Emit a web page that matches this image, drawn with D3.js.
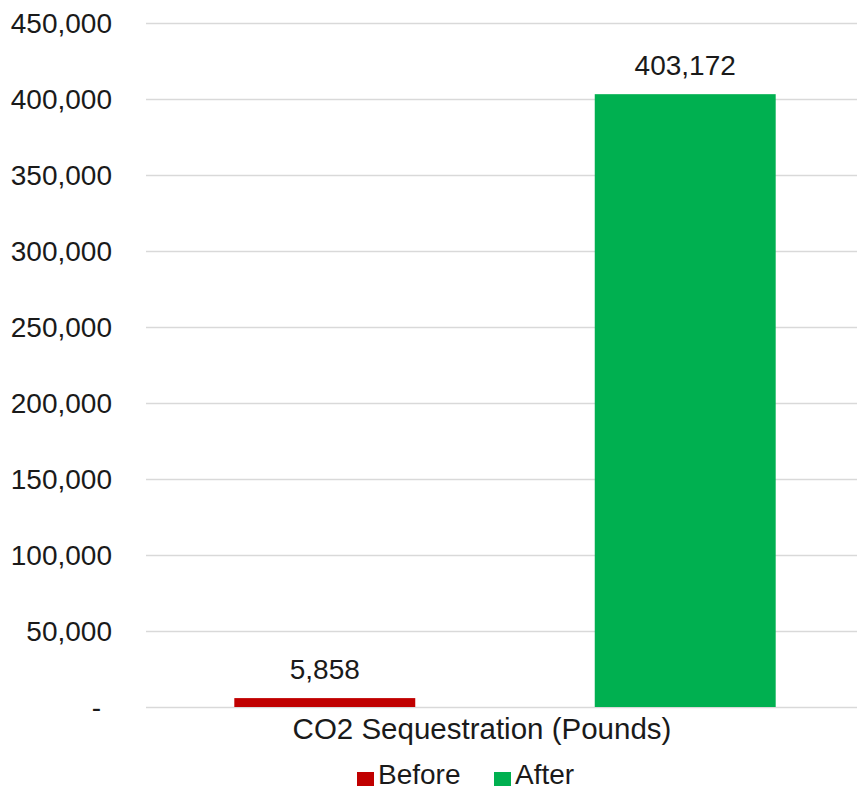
<!DOCTYPE html>
<html>
<head>
<meta charset="utf-8">
<script src="https://cdn.jsdelivr.net/npm/d3@7"></script>
<style>
  body { margin: 0; background: #fff; }
  text { font-family: "Liberation Sans", Arial, Helvetica, sans-serif; fill: #1a1a1a; }
</style>
</head>
<body>
<div id="chart"></div>
<script>
// chart data
var category = "CO2 Sequestration (Pounds)";
var seriesNames = ["Before", "After"];
var seriesValues = [5858, 403172];
var seriesColors = ["#C00000", "#00B050"];
var yTicks = [0, 50000, 100000, 150000, 200000, 250000, 300000, 350000, 400000, 450000];

var width = 857, height = 791;
var plot = { left: 146, right: 864, top: 23, bottom: 707 };

var svg = d3.select("#chart").append("svg")
    .attr("width", width)
    .attr("height", height);

// scales
var y = d3.scaleLinear()
    .domain([0, 450000])
    .range([plot.bottom, plot.top]);

var x = d3.scaleBand()
    .domain(seriesNames)
    .range([plot.left, plot.right])
    .paddingInner(0.498)
    .paddingOuter(0.245);

var fmt = d3.format(",");

// gridlines
svg.append("g").selectAll("line.grid")
    .data(yTicks)
    .enter()
    .append("line")
    .attr("class", "grid")
    .attr("x1", plot.left)
    .attr("x2", width)
    .attr("y1", function(d) { return Math.round(y(d)) + 0.5; })
    .attr("y2", function(d) { return Math.round(y(d)) + 0.5; })
    .attr("stroke", "#d9d9d9")
    .attr("stroke-width", 1.5);

// y tick labels (zero shown as dash, accounting style)
svg.append("g").selectAll("text.ytick")
    .data(yTicks)
    .enter()
    .append("text")
    .attr("class", "ytick")
    .attr("x", function(d) { return d === 0 ? 101 : 112; })
    .attr("y", function(d) { return y(d); })
    .attr("dy", "0.35em")
    .attr("text-anchor", "end")
    .style("font-size", "28px")
    .text(function(d) { return d === 0 ? "-" : fmt(d); });

// bars
var bars = seriesNames.map(function(n, i) {
    return { name: n, value: seriesValues[i], color: seriesColors[i] };
});

svg.append("g").selectAll("rect.bar")
    .data(bars)
    .enter()
    .append("rect")
    .attr("class", "bar")
    .attr("x", function(d) { return x(d.name); })
    .attr("width", x.bandwidth())
    .attr("y", function(d) { return y(d.value); })
    .attr("height", function(d) { return y(0) - y(d.value); })
    .attr("fill", function(d) { return d.color; });

// value labels
svg.append("g").selectAll("text.val")
    .data(bars)
    .enter()
    .append("text")
    .attr("class", "val")
    .attr("x", function(d) { return x(d.name) + x.bandwidth() / 2; })
    .attr("y", function(d) { return y(d.value) - 19; })
    .attr("text-anchor", "middle")
    .style("font-size", "28px")
    .text(function(d) { return fmt(d.value); });

// category label
svg.append("text")
    .attr("x", 482)
    .attr("y", 739)
    .attr("text-anchor", "middle")
    .style("font-size", "29.5px")
    .text(category);

// legend
var legend = svg.append("g").selectAll("g.legend")
    .data(bars)
    .enter()
    .append("g")
    .attr("class", "legend")
    .attr("transform", function(d, i) { return "translate(" + [357, 494][i] + ",0)"; });

legend.append("rect")
    .attr("x", 0)
    .attr("y", 772)
    .attr("width", 17)
    .attr("height", 14)
    .attr("fill", function(d) { return d.color; });

legend.append("text")
    .attr("x", 21)
    .attr("y", 784)
    .style("font-size", "28px")
    .text(function(d) { return d.name; });
</script>
</body>
</html>
